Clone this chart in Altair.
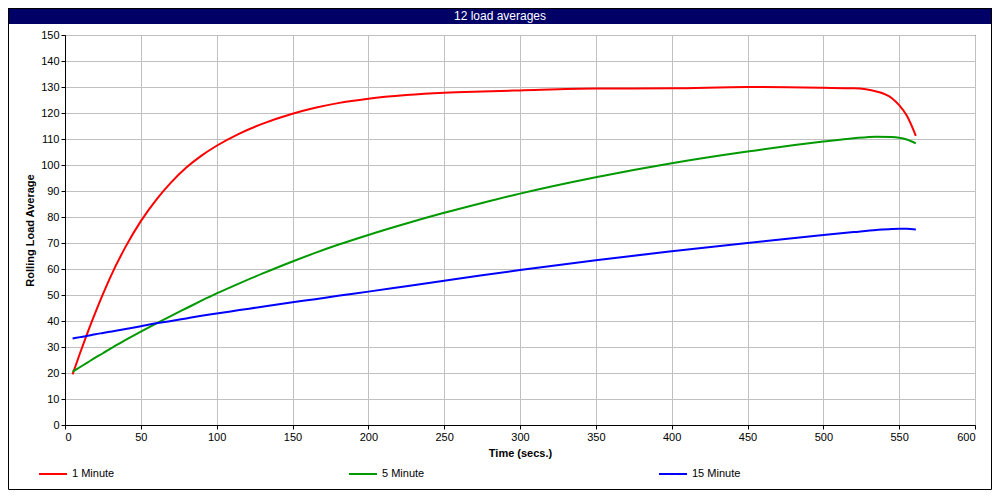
import altair as alt
import pandas as pd

time_s = [5, 10, 15, 20, 25, 30, 40, 50, 60, 70, 80, 90, 100, 115, 130, 150, 165, 180,
          200, 225, 250, 275, 300, 350, 400, 450, 500, 520, 535, 545, 550, 555, 561]
one_minute = [19.5, 27.8, 35.7, 43.2, 50.3, 57.0, 68.6, 78.4, 86.5, 93.3, 99.0, 103.6, 107.4,
              112.1, 115.8, 119.7, 122.0, 123.8, 125.5, 126.9, 127.8, 128.3, 128.7, 129.4,
              129.5, 130.0, 129.7, 129.5, 128.3, 125.8, 123.0, 119.0, 111.2]
five_minute = [20.5, 22.3, 24.1, 25.9, 27.6, 29.4, 32.7, 35.9, 39.0, 42.0, 44.9, 47.8, 50.6,
               54.5, 58.2, 62.9, 66.2, 69.3, 73.1, 77.5, 81.6, 85.4, 89.0, 95.3, 100.7, 105.2,
               109.0, 110.3, 110.9, 110.8, 110.5, 109.8, 108.3]
fifteen_minute = [33.3, 33.8, 34.3, 34.9, 35.4, 35.9, 36.9, 38.0, 39.1, 40.0, 41.0, 42.0, 42.9,
                  44.2, 45.5, 47.2, 48.4, 49.7, 51.3, 53.4, 55.5, 57.6, 59.6, 63.4, 66.8, 70.0,
                  73.1, 74.2, 75.0, 75.4, 75.5, 75.5, 75.2]
series_names = ["1 Minute", "5 Minute", "15 Minute"]
series_colors = ["#ff0000", "#009900", "#0000ff"]
x_ticks = list(range(0, 601, 50))
y_ticks = list(range(0, 151, 10))
chart_title = "12 load averages"

rows = []
for name, vals in zip(series_names, [one_minute, five_minute, fifteen_minute]):
    for t, v in zip(time_s, vals):
        rows.append({"time": t, "load": v, "series": name})
df = pd.DataFrame(rows)

FONT = "Liberation Sans"

lines = alt.Chart(df).mark_line(strokeWidth=2, interpolate="monotone").encode(
    x=alt.X("time:Q", scale=alt.Scale(domain=[0, 600], nice=False),
            axis=alt.Axis(values=x_ticks, title="Time (secs.)", titleX=455, titleY=28,
                          titleBaseline="middle", titleAlign="center")),
    y=alt.Y("load:Q", scale=alt.Scale(domain=[0, 150], nice=False),
            axis=alt.Axis(values=y_ticks, title="Rolling Load Average", titleX=-35, titleY=195,
                          titleAngle=-90, titleBaseline="middle", titleAlign="center")),
    color=alt.Color("series:N", scale=alt.Scale(domain=series_names, range=series_colors),
                    legend=alt.Legend(orient="none", legendX=-27, legendY=424,
                                      direction="horizontal", title=None,
                                      symbolType="stroke", symbolSize=784,
                                      symbolStrokeWidth=2, labelOffset=4,
                                      columnPadding=230, padding=0,
                                      labelFont=FONT, labelFontSize=11,
                                      labelColor="black")),
)

title_df = pd.DataFrame({"label": [chart_title]})
bar = alt.Chart(title_df).mark_rect(color="#000066").encode(
    x=alt.value(-57), x2=alt.value(927), y=alt.value(-27), y2=alt.value(-11))
title_text = alt.Chart(title_df).mark_text(color="white", font=FONT, fontSize=12,
                                           baseline="middle", align="center").encode(
    x=alt.value(435), y=alt.value(-19), text="label:N")
frame = alt.Chart(title_df).mark_rect(fill=None, stroke="black", strokeWidth=1).encode(
    x=alt.value(-56.5), x2=alt.value(926.5), y=alt.value(-26.5), y2=alt.value(454.5))

chart = alt.layer(lines, bar, title_text, frame).properties(
    width=910, height=390,
    autosize=alt.AutoSizeParams(type="none"),
    padding={"left": 57, "top": 27, "right": 17, "bottom": 65},
).configure_axis(
    domainColor="black", tickColor="black", gridColor="#c0c0c0", gridWidth=1,
    labelFont=FONT, labelFontSize=11, labelColor="black", labelPadding=2, tickSize=4,
    titleFont=FONT, titleFontSize=11, titleFontWeight="bold", titleColor="black",
).configure_view(stroke="black", strokeWidth=1)

chart.save("out.html", embed_options={"renderer": "svg", "actions": False})
